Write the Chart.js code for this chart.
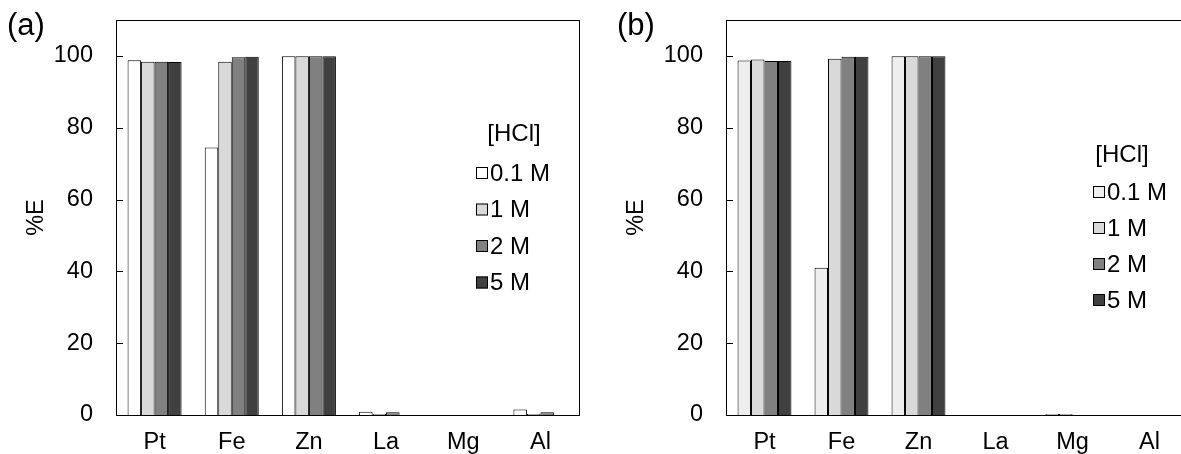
<!DOCTYPE html>
<html><head><meta charset="utf-8">
<script src="https://cdn.jsdelivr.net/npm/chart.js@4.4.1/dist/chart.umd.min.js"></script>
<style>
html,body{margin:0;padding:0;background:#fff;overflow:hidden;width:1181px;height:454px;position:relative;}
#ca{position:absolute;left:0;top:0;}
#cb{position:absolute;left:600px;top:0;}
</style></head><body>
<canvas id="ca" width="590" height="454"></canvas>
<canvas id="cb" width="600" height="454"></canvas>
<script>
const categories = ['Pt','Fe','Zn','La','Mg','Al'];
const seriesLabels = ['0.1 M','1 M','2 M','5 M'];
const legendTitle = '[HCl]';
const yTicks = [0,20,40,60,80,100];
const yAxisTitle = '%E';
// panel (a)
const a_01M = [98.8, 74.5, 99.9, 0.9, 0, 1.5];
const a_1M  = [98.4, 98.4, 99.9, 0.3, 0, 0.3];
const a_2M  = [98.4, 99.6, 99.9, 0.8, 0, 0.8];
const a_5M  = [98.3, 99.8, 99.9, 0,   0, 0];
// panel (b)
const b_01M = [98.7, 41.0, 99.9, 0, 0.3, 0];
const b_1M  = [99.0, 99.2, 99.9, 0, 0.3, 0];
const b_2M  = [98.6, 99.8, 99.9, 0, 0,   0];
const b_5M  = [98.6, 99.8, 99.9, 0, 0,   0];

Chart.defaults.font.family = '"Liberation Sans", Arial, sans-serif';
Chart.defaults.color = '#000';

const FS = 23.5;
const FONT = '24px "Liberation Sans", Arial, sans-serif';

const decor = {
  id: 'decor',
  afterDatasetsDraw(chart, args, opts) {
    const ctx = chart.ctx;
    const ca = chart.chartArea;
    const ys = chart.scales.y;
    ctx.save();
    ctx.strokeStyle = '#000';
    ctx.lineWidth = 1;
    ctx.strokeRect(Math.round(ca.left) + 0.5, Math.round(ca.top) + 0.5,
                   Math.round(ca.right - ca.left), Math.round(ca.bottom - ca.top));
    ys.ticks.forEach(t => {
      const y = Math.round(ys.getPixelForValue(t.value)) + 0.5;
      ctx.beginPath();
      ctx.moveTo(ca.left, y);
      ctx.lineTo(ca.left + 7, y);
      ctx.stroke();
    });
    ctx.fillStyle = '#000';
    ctx.font = '31px "Liberation Sans", Arial, sans-serif';
    ctx.textAlign = 'left';
    ctx.textBaseline = 'alphabetic';
    ctx.fillText(opts.tag, opts.tagX, opts.tagY);
    ctx.font = FONT;
    ctx.textAlign = 'center';
    ctx.textBaseline = 'middle';
    ctx.fillText(opts.legendTitle, opts.titleX, opts.titleY);
    ctx.textAlign = 'left';
    chart.data.datasets.forEach((ds, i) => {
      const cy = opts.itemY0 + i * opts.itemDY;
      ctx.fillStyle = ds.backgroundColor;
      ctx.fillRect(opts.boxX, cy - 6, 12, 12);
      ctx.strokeStyle = '#000';
      ctx.strokeRect(opts.boxX + 0.5, cy - 5.5, 11, 11);
      ctx.fillStyle = '#000';
      ctx.fillText(ds.label, opts.textX, cy + 1);
    });
    ctx.restore();
  }
};

function makeChart(id, series, colors, yW, padRight, decorOpts) {
  return new Chart(document.getElementById(id), {
    type: 'bar',
    data: {
      labels: categories,
      datasets: series.map((d, i) => ({
        label: seriesLabels[i],
        data: d,
        backgroundColor: colors[i],
        borderColor: '#000',
        borderWidth: 1,
        categoryPercentage: 0.7,
        barPercentage: 1.0
      }))
    },
    options: {
      responsive: false,
      animation: false,
      devicePixelRatio: 1,
      layout: { padding: { top: 20, right: padRight, left: 0, bottom: 0 } },
      plugins: { legend: { display: false }, tooltip: { enabled: false }, decor: decorOpts },
      scales: {
        x: {
          grid: { display: false, drawTicks: false },
          border: { display: false },
          ticks: { font: { size: FS }, padding: 13, maxRotation: 0 },
          afterFit(s) { s.height = 39; s.paddingLeft = 0; s.paddingRight = 0; }
        },
        y: {
          min: 0, max: 110,
          grid: { display: false, drawTicks: false },
          border: { display: false },
          ticks: { font: { size: FS }, padding: 23 },
          afterBuildTicks(s) { s.ticks = yTicks.map(v => ({ value: v })); },
          title: { display: true, text: yAxisTitle, font: { size: FS }, padding: { top: 22, bottom: 0 } },
          afterFit(s) { s.width = yW; s.paddingTop = 0; s.paddingBottom = 0; }
        }
      }
    },
    plugins: [decor]
  });
}

makeChart('ca', [a_01M, a_1M, a_2M, a_5M], ['#ffffff', '#d9d9d9', '#808080', '#404040'], 116, 11,
  { tag: '(a)', tagX: 7, tagY: 35, legendTitle: legendTitle, titleX: 514, titleY: 134,
    itemY0: 173, itemDY: 36.5, boxX: 476, textX: 490 });
makeChart('cb', [b_01M, b_1M, b_2M, b_5M], ['#eeeeee', '#d9d9d9', '#808080', '#404040'], 126, 12,
  { tag: '(b)', tagX: 17, tagY: 35, legendTitle: legendTitle, titleX: 522, titleY: 155,
    itemY0: 192, itemDY: 36, boxX: 493, textX: 507 });
</script>
</body></html>
